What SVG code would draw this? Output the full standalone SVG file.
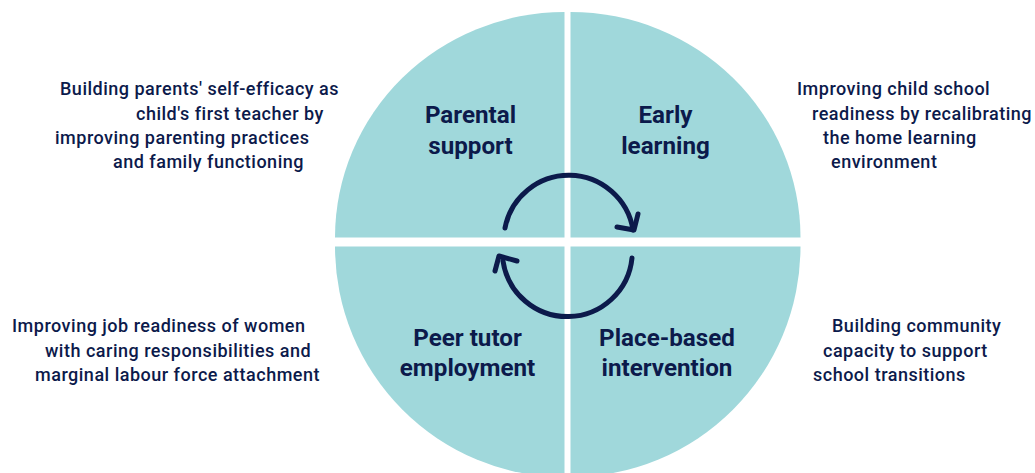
<svg xmlns="http://www.w3.org/2000/svg" width="1035" height="473" viewBox="0 0 1035 473">
<style>
.quad{fill:#A0D8DB}
.title{font-family:Roboto,"Liberation Sans",sans-serif;font-weight:700;font-size:24.2px;fill:#0C1A4B;text-anchor:middle}
.desc{font-family:Roboto,"Liberation Sans",sans-serif;font-weight:500;font-size:18px;letter-spacing:0.5px;fill:#0C1A4B}
.arc{fill:none;stroke:#0C1A4B;stroke-width:5;stroke-linecap:round;stroke-linejoin:round}
</style>
<rect width="1035" height="473" fill="#ffffff"/>
<g id="parental-support">
<path class="quad" d="M564.5 237.5 L335 237.5 A229.5 225.5 0 0 1 564.5 12 Z"/>
<text class="title" x="470.5" y="123">Parental</text>
<text class="title" x="470.5" y="154">support</text>
<text class="desc" x="60" y="95">Building parents' self-efficacy as</text>
<text class="desc" x="136" y="119.5">child's first teacher by</text>
<text class="desc" x="55" y="144">improving parenting practices</text>
<text class="desc" x="113" y="168">and family functioning</text>
</g>
<g id="early-learning">
<path class="quad" d="M570.5 237.5 L570.5 12 A230 225.5 0 0 1 800.5 237.5 Z"/>
<text class="title" x="665.5" y="123">Early</text>
<text class="title" x="665.5" y="154">learning</text>
<text class="desc" x="797" y="95">Improving child school</text>
<text class="desc" x="812" y="119.5">readiness by recalibrating</text>
<text class="desc" x="823" y="144">the home learning</text>
<text class="desc" x="831" y="168">environment</text>
</g>
<g id="peer-tutor-employment">
<path class="quad" d="M564.5 246.5 L564.5 477 A229.5 230.5 0 0 1 335 246.5 Z"/>
<text class="title" x="467.5" y="346">Peer tutor</text>
<text class="title" x="467.5" y="376">employment</text>
<text class="desc" x="12" y="332">Improving job readiness of women</text>
<text class="desc" x="45" y="356.5">with caring responsibilities and</text>
<text class="desc" x="35" y="381">marginal labour force attachment</text>
</g>
<g id="place-based-intervention">
<path class="quad" d="M570.5 246.5 L800.5 246.5 A230 230.5 0 0 1 570.5 477 Z"/>
<text class="title" x="667" y="346">Place-based</text>
<text class="title" x="667" y="376">intervention</text>
<text class="desc" x="832" y="332">Building community</text>
<text class="desc" x="823" y="356.5">capacity to support</text>
<text class="desc" x="813" y="381">school transitions</text>
</g>
<g id="connectors">
<path class="arc" d="M505 228 A65 65 0 0 1 633 230"/>
<path class="arc" d="M638 214 L634 230 L617 227"/>
<path class="arc" d="M632 258 A65 65 0 0 1 503 261"/>
<path class="arc" d="M495 271 L499 256 L517 261"/>
</g>
</svg>
